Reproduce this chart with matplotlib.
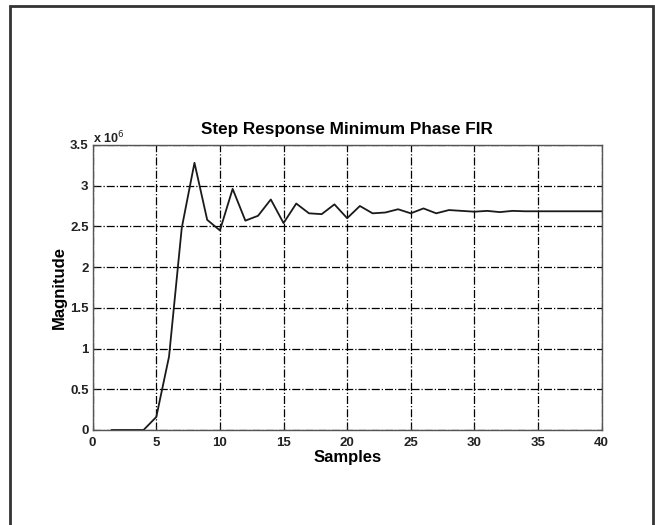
import matplotlib.pyplot as plt
from matplotlib.patches import Rectangle
from matplotlib.ticker import FuncFormatter

# Step response of the minimum phase FIR (in units of 1e6)
samples = [1.5, 2, 3, 4, 5, 6, 7, 8, 9, 10, 11, 12, 13, 14, 15, 16, 17, 18, 19, 20,
           21, 22, 23, 24, 25, 26, 27, 28, 29, 30, 31, 32, 33, 34, 35, 36, 37, 38, 39, 40]
magnitude_m = [0, 0, 0, 0, 0.16, 0.90, 2.48, 3.28, 2.58, 2.45, 2.96, 2.57, 2.63, 2.83,
               2.54, 2.78, 2.66, 2.65, 2.77, 2.60, 2.75, 2.66, 2.67, 2.71, 2.66, 2.72,
               2.66, 2.70, 2.69, 2.68, 2.69, 2.675, 2.69, 2.685, 2.685, 2.685, 2.685,
               2.685, 2.685, 2.685]
magnitude = [v * 1e6 for v in magnitude_m]

xticks = [0, 5, 10, 15, 20, 25, 30, 35, 40]
yticks = [0, 0.5e6, 1e6, 1.5e6, 2e6, 2.5e6, 3e6, 3.5e6]

plt.rcParams['font.family'] = ['Liberation Sans', 'DejaVu Sans']

fig = plt.figure(figsize=(6.55, 5.25), dpi=100)
ax = fig.add_axes([0.1415, 0.181, 0.777, 0.543])

ax.plot(samples, magnitude, color="#1a1a1a", lw=1.3)

ax.set_xlim(0, 40)
ax.set_ylim(0, 3.5e6)
ax.set_xticks(xticks)
ax.set_yticks(yticks)
ax.yaxis.set_major_formatter(FuncFormatter(lambda v, p: f"{v / 1e6:g}"))
ax.tick_params(direction="in", length=3, labelsize=9.5, colors="#222222")
ax.tick_params(axis="x", pad=5)
ax.tick_params(axis="y", pad=3)
for lab in ax.get_xticklabels() + ax.get_yticklabels():
    lab.set_fontweight("bold")

ax.grid(True, color="black", linestyle="-.", linewidth=0.9)
for s in ax.spines.values():
    s.set_color("#555555")
    s.set_linewidth(1.0)

ax.text(0.0, 1.004, r"x 10$^{6}$", transform=ax.transAxes, fontsize=9,
        fontweight="bold", color="#222222", ha="left", va="baseline")

ax.set_title("Step Response Minimum Phase FIR", fontsize=12.3, fontweight="bold", pad=8)
ax.set_xlabel("Samples", fontsize=12, fontweight="bold", labelpad=1)
ax.set_ylabel("Magnitude", fontsize=12, fontweight="bold", labelpad=2)

# outer frame around the figure
fig.patches.append(Rectangle((10 / 655, -0.02), 643 / 655, 1 - 6 / 525 + 0.02,
                             transform=fig.transFigure, fill=False,
                             edgecolor="#333333", linewidth=2))

fig.savefig("out.png", dpi=100)
